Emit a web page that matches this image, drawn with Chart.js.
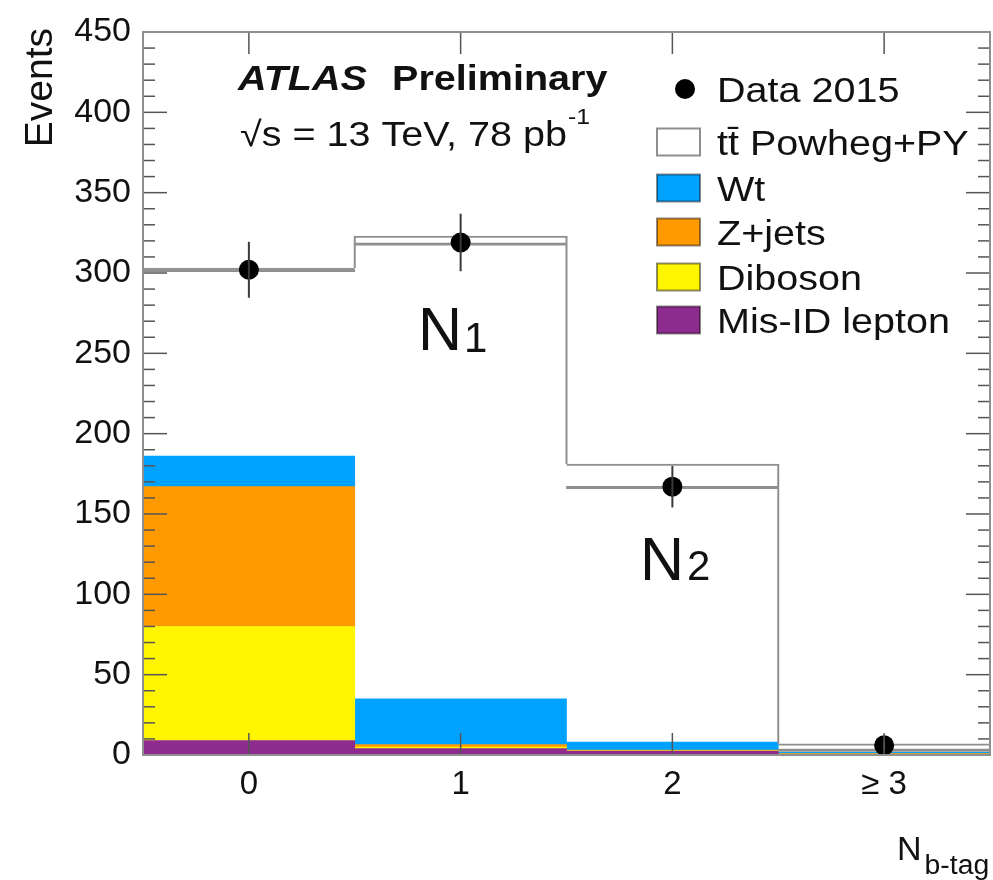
<!DOCTYPE html>
<html lang="en">
<head>
    <meta charset="UTF-8">
    <title>N b-tag</title>
    <script src="https://cdn.jsdelivr.net/npm/chart.js"></script>
    <style>
        html, body { margin: 0; padding: 0; background: #ffffff; }
        canvas { display: block; }
    </style>
</head>
<body>
    <canvas id="grafico" width="993" height="880"></canvas>
    <script>
        // bins of N b-tag
        const categorias = ['0', '1', '2', '\u2265 3'];

        // stacked backgrounds, bottom to top
        const misId   = [9, 4, 2.5, 0.5];
        const diboson = [71, 1, 0.3, 0.2];
        const zjets   = [87, 1.5, 0.3, 0.2];
        const wt      = [19, 28.5, 5, 0.8];
        const ttbar   = [117, 288, 173, 5.3];
        // second ttbar level drawn as a line across each bin
        const ttbarAlt = [301.5, 318, 166.5, 3];

        // data 2015 with errors
        const dados    = [302, 319, 167, 6];
        const dadosErr = [17.4, 17.9, 12.9, 2.4];

        const yTicks = [0, 50, 100, 150, 200, 250, 300, 350, 400, 450];

        const fonte = "'Liberation Sans', Arial, sans-serif";
        const ESTICA = 1.13;
        const cinza = '#8f8f8f';

        function texto(ctx, str, x, y, font, sx) {
            ctx.save();
            ctx.translate(x, y);
            ctx.scale(sx || ESTICA, 1);
            ctx.font = font;
            ctx.fillText(str, 0, 0);
            const w = ctx.measureText(str).width * (sx || ESTICA);
            ctx.restore();
            return w;
        }

        function linha(ctx, x1, y1, x2, y2) {
            ctx.beginPath();
            ctx.moveTo(x1, y1);
            ctx.lineTo(x2, y2);
            ctx.stroke();
        }

        const molduraPlugin = {
            id: 'moldura',
            afterDatasetsDraw(chart) {
                const { ctx, chartArea: a, scales: { x, y } } = chart;
                ctx.save();

                // step connectors of the ttbar outline
                const metaTt = chart.getDatasetMeta(6);
                ctx.strokeStyle = cinza;
                ctx.lineWidth = 2;
                for (let i = 0; i < metaTt.data.length; i++) {
                    const b = metaTt.data[i];
                    const xe = b.x + b.width / 2;
                    const yProx = i < metaTt.data.length - 1 ? metaTt.data[i + 1].y : a.bottom;
                    linha(ctx, xe, b.y, xe, yProx);
                }

                // error bars of the data
                const metaD = chart.getDatasetMeta(0);
                ctx.strokeStyle = '#3a3a3a';
                ctx.lineWidth = 2;
                metaD.data.forEach((p, i) => {
                    linha(ctx, p.x, y.getPixelForValue(dados[i] - dadosErr[i]),
                        p.x, y.getPixelForValue(dados[i] + dadosErr[i]));
                });

                // ROOT style inner ticks
                ctx.strokeStyle = '#555555';
                ctx.lineWidth = 1.5;
                for (let v = 0; v <= 450; v += 10) {
                    const py = y.getPixelForValue(v);
                    const len = v % 50 === 0 ? 24 : 12;
                    linha(ctx, a.left, py, a.left + len, py);
                    linha(ctx, a.right, py, a.right - len, py);
                }
                categorias.forEach((c, i) => {
                    const px = x.getPixelForValue(i);
                    linha(ctx, px, a.bottom, px, a.bottom - 22);
                    linha(ctx, px, a.top, px, a.top + 22);
                });

                // frame
                ctx.strokeStyle = cinza;
                ctx.lineWidth = 2;
                ctx.strokeRect(a.left, a.top, a.right - a.left, a.bottom - a.top);
                ctx.restore();
            },
            afterDraw(chart) {
                const { ctx } = chart;
                ctx.save();
                ctx.fillStyle = '#111111';
                ctx.textBaseline = 'alphabetic';
                ctx.textAlign = 'left';

                // y axis title
                ctx.save();
                ctx.translate(52, 28);
                ctx.rotate(-Math.PI / 2);
                ctx.textAlign = 'right';
                ctx.font = '39px ' + fonte;
                ctx.fillText('Events', 0, 0);
                ctx.restore();

                // x axis title
                let w = texto(ctx, 'N', 897, 860, '34px ' + fonte, 1.0);
                texto(ctx, 'b-tag', 897 + w + 3, 874, '27px ' + fonte, 1.05);

                // ATLAS label
                w = texto(ctx, 'ATLAS', 238, 90, 'italic bold 35px ' + fonte);
                texto(ctx, 'Preliminary', 392, 90, 'bold 35px ' + fonte);
                w = texto(ctx, '\u221As = 13 TeV, 78 pb', 240, 146, '35px ' + fonte);
                texto(ctx, '-1', 240 + w + 1, 124, '22px ' + fonte);

                // N1 and N2
                w = texto(ctx, 'N', 418, 350, '61px ' + fonte, 1.0);
                texto(ctx, '1', 418 + w + 2, 352, '42px ' + fonte, 1.0);
                w = texto(ctx, 'N', 640, 580, '61px ' + fonte, 1.0);
                texto(ctx, '2', 640 + w + 3, 580, '42px ' + fonte, 1.0);

                // legend
                const itens = [
                    { ds: 0, y: 89 }, { ds: 6, y: 142 }, { ds: 5, y: 188 },
                    { ds: 4, y: 232 }, { ds: 3, y: 277 }, { ds: 2, y: 320 }
                ];
                itens.forEach(it => {
                    const d = chart.data.datasets[it.ds];
                    if (it.ds === 0) {
                        ctx.beginPath();
                        ctx.arc(685, it.y, 10, 0, Math.PI * 2);
                        ctx.fillStyle = '#000000';
                        ctx.fill();
                    } else {
                        ctx.fillStyle = d.backgroundColor;
                        ctx.fillRect(657, it.y - 13.5, 43, 27);
                        ctx.strokeStyle = it.ds === 6 ? cinza : 'rgba(0,0,0,0.45)';
                        ctx.lineWidth = 2;
                        ctx.strokeRect(657, it.y - 13.5, 43, 27);
                    }
                    ctx.fillStyle = '#111111';
                    texto(ctx, d.label, 717, it.y + 12.5, '35px ' + fonte);
                });
                ctx.restore();
            }
        };

        const ctx = document.getElementById('grafico').getContext('2d');
        const grafico = new Chart(ctx, {
            type: 'bar',
            data: {
                labels: categorias,
                datasets: [
                    {
                        type: 'line',
                        label: 'Data 2015',
                        data: dados,
                        stack: 'dados',
                        showLine: false,
                        pointRadius: 10,
                        pointHoverRadius: 10,
                        pointBackgroundColor: '#000000',
                        pointBorderColor: '#000000',
                        pointBorderWidth: 0,
                        backgroundColor: '#000000'
                    },
                    {
                        label: 'alt',
                        data: ttbarAlt.map(v => [v - 0.7, v + 0.7]),
                        stack: 'alt',
                        grouped: false,
                        backgroundColor: cinza,
                        borderWidth: 0
                    },
                    { label: 'Mis-ID lepton', data: misId, stack: 'mc', backgroundColor: '#8e2b8e' },
                    { label: 'Diboson', data: diboson, stack: 'mc', backgroundColor: '#fff500' },
                    { label: 'Z+jets', data: zjets, stack: 'mc', backgroundColor: '#ff9a00' },
                    { label: 'Wt', data: wt, stack: 'mc', backgroundColor: '#00a2ff' },
                    {
                        label: 'tt\u0304 Powheg+PY',
                        data: ttbar,
                        stack: 'mc',
                        backgroundColor: '#ffffff',
                        borderColor: cinza,
                        borderWidth: { top: 2, left: 0, right: 0, bottom: 0 },
                        borderSkipped: false
                    }
                ]
            },
            options: {
                responsive: false,
                animation: false,
                layout: {
                    autoPadding: false,
                    padding: { top: 32, right: 3, left: 0, bottom: 0 }
                },
                datasets: {
                    bar: { barPercentage: 1, categoryPercentage: 1 }
                },
                plugins: {
                    legend: { display: false },
                    tooltip: { enabled: false }
                },
                scales: {
                    x: {
                        stacked: true,
                        grid: { display: false },
                        border: { display: false },
                        ticks: {
                            color: '#111111',
                            padding: 2,
                            font: { family: fonte, size: 33 }
                        },
                        afterFit: s => {
                            s.height = 125;
                            s.paddingLeft = 0;
                            s.paddingRight = 0;
                        }
                    },
                    y: {
                        stacked: true,
                        min: 0,
                        max: 450,
                        grid: { display: false },
                        border: { display: false },
                        afterBuildTicks: s => { s.ticks = yTicks.map(v => ({ value: v })); },
                        ticks: {
                            color: '#111111',
                            padding: 4,
                            font: { family: fonte, size: 34 }
                        },
                        afterFit: s => { s.width = 143; }
                    }
                }
            },
            plugins: [molduraPlugin]
        });
    </script>
</body>
</html>
